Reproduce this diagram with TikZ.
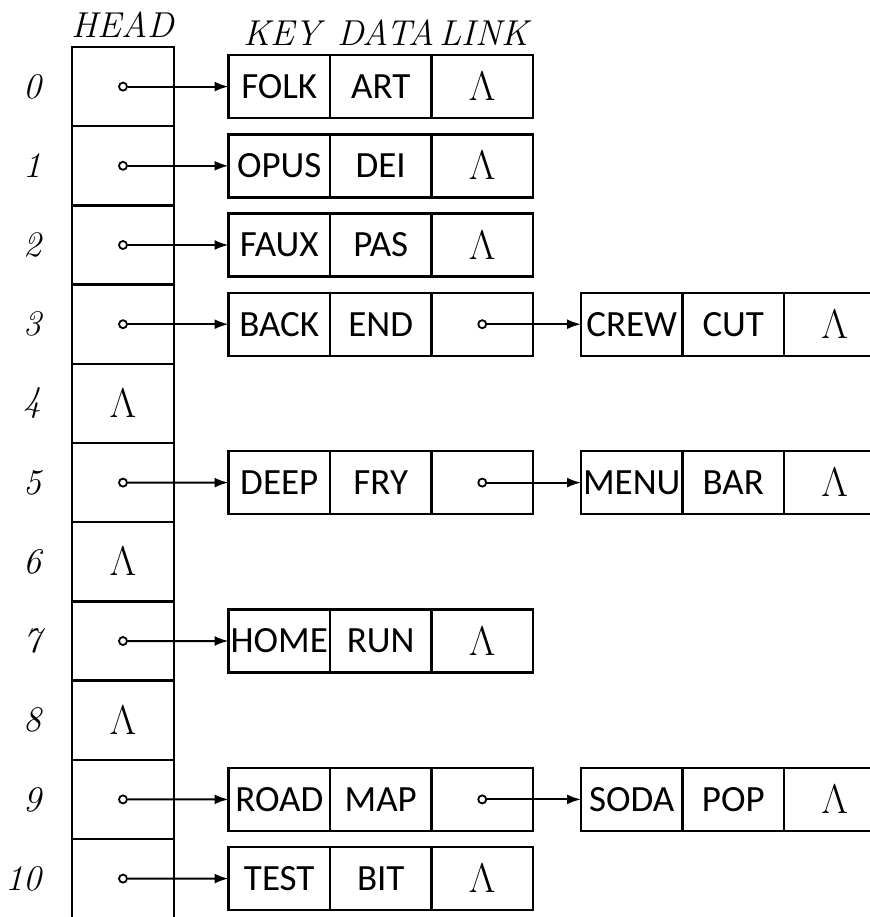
\documentclass[tikz,border=0pt]{standalone}
\usepackage{fontspec}
\newfontfamily\cellfont{Carlito}
\usetikzlibrary{positioning,arrows.meta}
\tikzset{
  headc/.style={draw, line width=1.2pt, minimum width=51pt, minimum height=39.6pt,
    inner sep=0pt, outer sep=0pt},
  cellc/.style={draw, line width=1.2pt, minimum width=50.75pt, minimum height=31.5pt,
    inner sep=0pt, outer sep=0pt, font=\cellfont\fontsize{18.5}{20}\selectfont},
  lam/.style={font=\fontsize{20}{22}\selectfont},
  rowlab/.style={anchor=east, font=\fontsize{18}{20}\selectfont\itshape},
  collab/.style={anchor=base, inner sep=0pt, font=\fontsize{18}{20}\selectfont\itshape},
  ptrdot/.style={circle, draw, fill=white, line width=0.9pt, minimum size=4pt, inner sep=0pt},
  ptr/.style={-{Latex[length=7pt, width=5pt]}, line width=1pt},
}

\begin{document}
\begin{tikzpicture}[x=0.5pt, y=-0.5pt]
  \useasboundingbox (0,0) rectangle (870,917);
  % hash table column
  \foreach \i in {0,...,10} {
    \node[headc] (h\i) at (123, 86.6+79.2*\i) {};
    \node[rowlab] (n\i) at (49, 86.6+79.2*\i) {\i};
  }
  \node[collab] (headlab) at (123,37) {HEAD};
  \node[collab] (keylab) at (282,45) {KEY};
  \node[collab] (datalab) at (386,45) {DATA};
  \node[collab] (linklab) at (484,45) {LINK};
  % empty buckets
  \node[lam] at (h4) {$\Lambda$};
  \node[lam] at (h6) {$\Lambda$};
  \node[lam] at (h8) {$\Lambda$};
  % first records
  \node[cellc] (k0) at (279.25,86.6) {FOLK};
  \node[cellc, right=0pt of k0] (d0) {ART};
  \node[cellc, lam, right=0pt of d0] (l0) {$\Lambda$};
  \node[cellc] (k1) at (279.25,165.8) {OPUS};
  \node[cellc, right=0pt of k1] (d1) {DEI};
  \node[cellc, lam, right=0pt of d1] (l1) {$\Lambda$};
  \node[cellc] (k2) at (279.25,245) {FAUX};
  \node[cellc, right=0pt of k2] (d2) {PAS};
  \node[cellc, lam, right=0pt of d2] (l2) {$\Lambda$};
  \node[cellc] (k3) at (279.25,324.2) {BACK};
  \node[cellc, right=0pt of k3] (d3) {END};
  \node[cellc, right=0pt of d3] (l3) {};
  \node[cellc] (k5) at (279.25,482.6) {DEEP};
  \node[cellc, right=0pt of k5] (d5) {FRY};
  \node[cellc, right=0pt of d5] (l5) {};
  \node[cellc] (k7) at (279.25,641) {HOME};
  \node[cellc, right=0pt of k7] (d7) {RUN};
  \node[cellc, lam, right=0pt of d7] (l7) {$\Lambda$};
  \node[cellc] (k9) at (279.25,799.4) {ROAD};
  \node[cellc, right=0pt of k9] (d9) {MAP};
  \node[cellc, right=0pt of d9] (l9) {};
  \node[cellc] (k10) at (279.25,878.6) {TEST};
  \node[cellc, right=0pt of k10] (d10) {BIT};
  \node[cellc, lam, right=0pt of d10] (l10) {$\Lambda$};
  % second records
  \node[cellc] (k3b) at (631.75,324.2) {CREW};
  \node[cellc, right=0pt of k3b] (d3b) {CUT};
  \node[cellc, lam, right=0pt of d3b] (l3b) {$\Lambda$};
  \node[cellc] (k5b) at (631.75,482.6) {MENU};
  \node[cellc, right=0pt of k5b] (d5b) {BAR};
  \node[cellc, lam, right=0pt of d5b] (l5b) {$\Lambda$};
  \node[cellc] (k9b) at (631.75,799.4) {SODA};
  \node[cellc, right=0pt of k9b] (d9b) {POP};
  \node[cellc, lam, right=0pt of d9b] (l9b) {$\Lambda$};
  % pointers
  \foreach \i in {0,1,2,3,5,7,9,10} {
    \node[ptrdot] (hp\i) at (h\i) {};
    \draw[ptr] (hp\i) -- (k\i);
  }
  \foreach \i in {3,5,9} {
    \node[ptrdot] (lp\i) at (l\i) {};
    \draw[ptr] (lp\i) -- (k\i b);
  }
\end{tikzpicture}
\end{document}
